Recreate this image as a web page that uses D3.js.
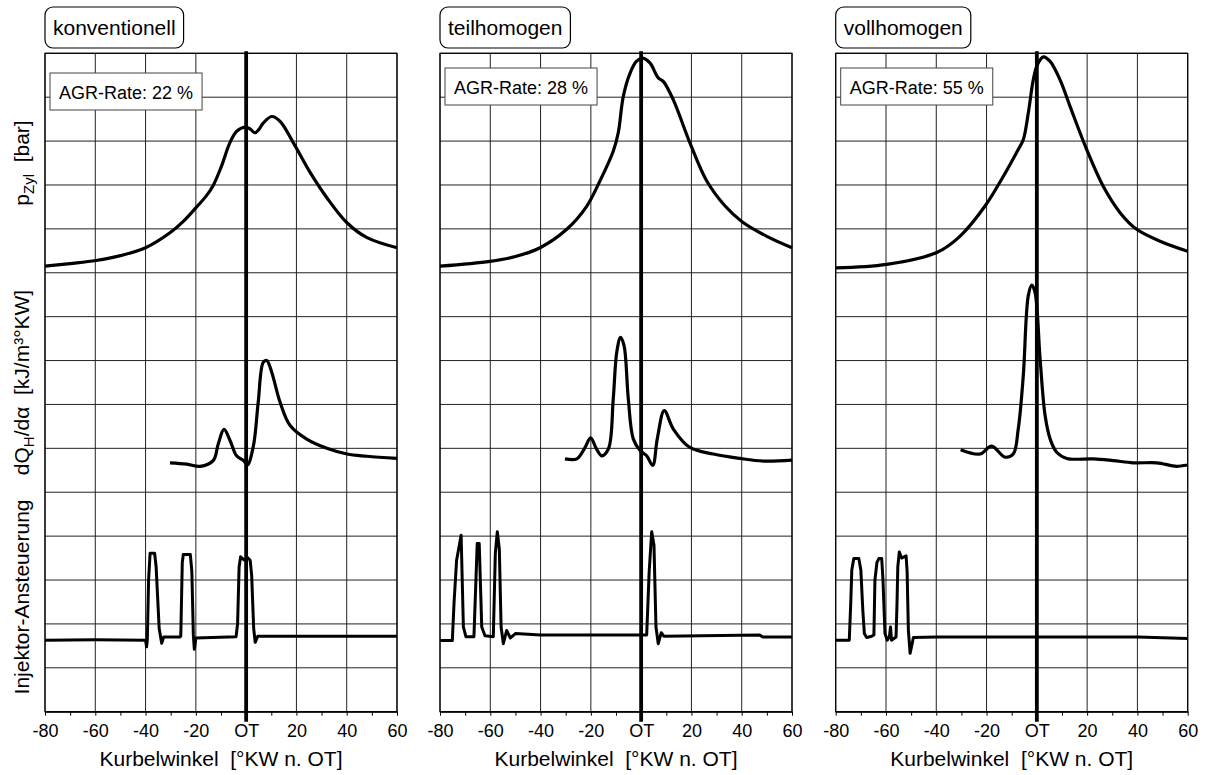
<!DOCTYPE html>
<html>
<head>
<meta charset="utf-8">
<script src="https://cdn.jsdelivr.net/npm/d3@7/dist/d3.min.js"></script>
<style>
  body { margin: 0; background: #fff; }
  text { font-family: Arial, "Liberation Sans", sans-serif; fill: #000; }
</style>
</head>
<body>
<div id="chartContainer"></div>
<script>
// crank angle ticks
const allTicks = [-80, -70, -60, -50, -40, -30, -20, -10, 0, 10, 20, 30, 40, 50, 60];
const majorTicks = [-80, -60, -40, -20, 0, 20, 40, 60];
const tickLabels = ['-80', '-60', '-40', '-20', 'OT', '20', '40', '60'];

const panelTitles = ['konventionell', 'teilhomogen', 'vollhomogen'];
const agrRates = [22, 28, 55];

// values in grid divisions of each sub-plot, [°KW, value]
const pressureKonv = [[-80,0.15],[-70,0.21],[-59.7,0.28],[-50,0.39],[-40,0.57],[-30.3,0.91],[-25,1.17],[-20,1.48],[-16,1.74],[-13.1,1.99],[-9.8,2.43],[-6.5,2.96],[-3.8,3.22],[-0.5,3.32],[1.5,3.28],[3.5,3.19],[5,3.26],[6.8,3.41],[10.2,3.56],[13.5,3.45],[18.8,2.96],[25.5,2.28],[32.1,1.71],[40.1,1.14],[48.1,0.80],[60,0.57]];
const pressureTeil = [[-80,0.15],[-60.1,0.26],[-50,0.37],[-40.2,0.57],[-29.6,0.99],[-21.6,1.52],[-16.4,2.09],[-11.1,2.77],[-9.1,3.19],[-7.1,4.02],[-4.4,4.55],[-1.8,4.82],[0.6,4.89],[3.5,4.78],[6.8,4.44],[8.8,4.36],[12.8,3.94],[19.4,2.96],[26.1,2.09],[33.4,1.52],[40,1.17],[50,0.83],[60,0.57]];
const pressureVoll = [[-80,0.11],[-59.7,0.19],[-39.8,0.46],[-30.6,0.83],[-20.6,1.52],[-13.3,2.20],[-7.4,2.81],[-5.4,3.03],[-3.4,3.64],[-1.4,4.40],[0.2,4.74],[2.6,4.92],[5.2,4.82],[9.2,4.40],[13.2,3.79],[19.8,2.81],[26.4,1.97],[33.1,1.37],[39.7,0.99],[49,0.72],[60,0.49]];

const hrrKonv = [[-30.3,0.67],[-23.6,0.64],[-18.3,0.59],[-13.1,0.72],[-11.1,1.10],[-8.8,1.43],[-6.4,1.18],[-3.8,0.83],[-1,0.72],[0.5,0.62],[2.9,1.06],[4.8,2.05],[6.8,2.96],[8.2,3.0],[10.2,2.73],[13.5,2.05],[17.5,1.52],[24.1,1.21],[32.1,1.0],[40.1,0.87],[48,0.82],[60,0.77]];
const hrrTeil = [[-30.3,0.76],[-25.6,0.76],[-22.5,1.0],[-20.1,1.24],[-17.8,0.99],[-15.7,0.83],[-13.0,0.99],[-11.1,2.12],[-9.7,3.19],[-8.2,3.53],[-6.8,3.34],[-5.1,2.12],[-3.1,1.21],[-0.4,0.95],[2.2,0.83],[4.6,0.61],[6.4,1.21],[9.2,1.86],[12.8,1.44],[19.4,1.02],[28.7,0.87],[39.3,0.77],[48.6,0.71],[60,0.73]];
const hrrVoll = [[-30.3,0.97],[-22.6,0.87],[-18.0,1.05],[-12.7,0.80],[-9.4,0.87],[-7.4,1.44],[-5.4,2.65],[-3.4,4.48],[-2.0,4.72],[-0.7,4.55],[1.3,3.03],[3.3,1.74],[5.3,1.21],[7.9,0.91],[11.9,0.77],[22.5,0.76],[30.4,0.72],[38.4,0.67],[47.7,0.67],[55.6,0.59],[60,0.62]];

const injKonv = [[-80,1.63],[-60,1.64],[-40,1.63],[-39.6,1.48],[-39.3,1.65],[-38.8,3.0],[-38.2,3.61],[-36.4,3.61],[-35.8,3.3],[-34.6,1.9],[-33.6,1.56],[-32.8,1.70],[-26.4,1.70],[-26.0,1.72],[-25.4,3.4],[-25.0,3.58],[-22.2,3.58],[-21.6,3.2],[-21.0,1.75],[-20.6,1.42],[-20.0,1.68],[-4.0,1.71],[-3.4,2.0],[-2.8,3.3],[-2.2,3.53],[-0.6,3.45],[0.4,3.52],[1.6,3.45],[2.2,3.1],[3.0,1.9],[3.6,1.58],[4.6,1.72],[60,1.72]];
const injTeil = [[-80,1.62],[-75.1,1.62],[-74.4,2.5],[-73.4,3.45],[-71.6,4.02],[-70.7,1.93],[-69.7,1.71],[-66.5,1.71],[-65.2,3.83],[-64.4,3.83],[-63.4,1.93],[-62.1,1.73],[-58.8,1.71],[-58.0,3.6],[-57.2,4.1],[-56.4,3.7],[-55.7,1.93],[-54.8,1.55],[-53.5,1.85],[-52,1.68],[-50,1.78],[-40,1.75],[0,1.75],[2.2,1.75],[3.2,3.2],[4.2,4.1],[5.1,3.8],[5.9,1.93],[6.8,1.55],[8,1.8],[9,1.72],[47,1.75],[48.5,1.70],[60,1.70]];
const injVoll = [[-80,1.63],[-74.6,1.63],[-74.0,2.5],[-73.6,3.23],[-72.8,3.49],[-70.8,3.49],[-70.0,3.23],[-69.2,2.3],[-68.6,1.78],[-67.7,1.69],[-65.7,1.72],[-64.8,1.75],[-64.4,3.0],[-63.6,3.4],[-62.8,3.49],[-61.7,3.49],[-61.2,3.0],[-60.4,1.78],[-59.5,1.63],[-58.6,1.72],[-58.2,1.93],[-57.8,1.63],[-56.0,1.7],[-55.6,2.5],[-55.3,3.30],[-54.7,3.64],[-53.8,3.5],[-52.0,3.55],[-51.6,3.2],[-51.1,1.86],[-50.4,1.33],[-49.1,1.69],[-40,1.70],[0,1.70],[40,1.70],[60,1.67]];

const pressureSeries = [pressureKonv, pressureTeil, pressureVoll];
const hrrSeries = [hrrKonv, hrrTeil, hrrVoll];
const injSeries = [injKonv, injTeil, injVoll];

// layout
const width = 1208, height = 775;
const plotTop = 53.3, plotBottom = 711.7, panelWidth = 352;
const panelLeft = [45, 440, 835.7];
const agrTop = [73, 68, 68];
const font = 'Arial, "Liberation Sans", sans-serif';

const svg = d3.select('#chartContainer')
    .append('svg')
    .attr('width', width)
    .attr('height', height);

const gridY = d3.scaleLinear().domain([0, 15]).range([plotBottom, plotTop]);
const pScale = d3.scaleLinear().domain([0, 5]).range([gridY(10), gridY(15)]);
const hrrScale = d3.scaleLinear().domain([0, 5]).range([gridY(5), gridY(10)]);
const injScale = d3.scaleLinear().domain([0, 5]).range([gridY(0), gridY(5)]);
const gridRows = d3.range(0, 16);

panelTitles.forEach((title, i) => {
    const g = svg.append('g').attr('transform', `translate(${panelLeft[i]},0)`);
    const x = d3.scaleLinear().domain([-80, 60]).range([0, panelWidth]);

    // grid
    g.append('g').selectAll('line')
        .data(majorTicks)
        .enter()
        .append('line')
        .attr('x1', d => x(d)).attr('x2', d => x(d))
        .attr('y1', plotTop).attr('y2', plotBottom)
        .attr('stroke', '#222').attr('stroke-width', 1);

    g.append('g').selectAll('line')
        .data(gridRows)
        .enter()
        .append('line')
        .attr('x1', 0).attr('x2', panelWidth)
        .attr('y1', d => gridY(d)).attr('y2', d => gridY(d))
        .attr('stroke', '#222').attr('stroke-width', 1);

    // x axis
    const axis = d3.axisBottom(x)
        .tickValues(allTicks)
        .tickSize(4)
        .tickSizeOuter(0)
        .tickPadding(9)
        .tickFormat(d => {
            const k = majorTicks.indexOf(d);
            return k >= 0 ? tickLabels[k] : '';
        });
    const ax = g.append('g')
        .attr('transform', `translate(0,${plotBottom})`)
        .call(axis)
        .attr('font-size', 18)
        .attr('font-family', font);
    ax.select('.domain').attr('stroke', '#000').attr('stroke-width', 1.2);
    ax.selectAll('.tick line').attr('stroke', '#000');
    ax.selectAll('.tick text').attr('fill', '#000');

    g.append('text')
        .attr('x', panelWidth / 2)
        .attr('y', 766)
        .attr('text-anchor', 'middle')
        .attr('font-size', 21)
        .style('white-space', 'pre')
        .text('Kurbelwinkel  [°KW n. OT]');

    // curves
    const smooth = d3.curveCatmullRom.alpha(0.5);
    const pLine = d3.line().x(d => x(d[0])).y(d => pScale(d[1])).curve(smooth);
    const hLine = d3.line().x(d => x(d[0])).y(d => hrrScale(d[1])).curve(smooth);
    const iLine = d3.line().x(d => x(d[0])).y(d => injScale(d[1]));

    g.append('path').datum(pressureSeries[i])
        .attr('fill', 'none').attr('stroke', '#000').attr('stroke-width', 3.2)
        .attr('stroke-linejoin', 'round').attr('d', pLine);
    g.append('path').datum(hrrSeries[i])
        .attr('fill', 'none').attr('stroke', '#000').attr('stroke-width', 3.2)
        .attr('stroke-linejoin', 'round').attr('d', hLine);
    g.append('path').datum(injSeries[i])
        .attr('fill', 'none').attr('stroke', '#000').attr('stroke-width', 3)
        .attr('stroke-linejoin', 'round').attr('d', iLine);

    // OT line
    g.append('line')
        .attr('x1', x(0)).attr('x2', x(0))
        .attr('y1', plotTop - 2).attr('y2', plotBottom + 10)
        .attr('stroke', '#000').attr('stroke-width', 3.8);

    // frame
    g.append('rect')
        .attr('x', 0).attr('y', plotTop)
        .attr('width', panelWidth).attr('height', plotBottom - plotTop)
        .attr('fill', 'none').attr('stroke', '#000').attr('stroke-width', 1.2);

    // AGR box
    const agrBox = g.append('rect')
        .attr('x', 5).attr('y', agrTop[i])
        .attr('height', 37)
        .attr('fill', '#fff').attr('stroke', '#444').attr('stroke-width', 1);
    const agrText = g.append('text')
        .attr('x', 14)
        .attr('y', agrTop[i] + 26)
        .attr('font-size', 18)
        .text(`AGR-Rate: ${agrRates[i]} %`);
    agrBox.attr('width', agrText.node().getComputedTextLength() + 18);

    // title box
    const tBox = g.append('rect')
        .attr('x', 0).attr('y', 7)
        .attr('height', 41)
        .attr('rx', 8).attr('ry', 8)
        .attr('fill', '#fff').attr('stroke', '#000').attr('stroke-width', 1.2);
    const tText = g.append('text')
        .attr('x', 8)
        .attr('y', 35)
        .attr('font-size', 21)
        .text(title);
    tBox.attr('width', tText.node().getComputedTextLength() + 16);
});

// y labels
const yl = svg.append('g').attr('font-size', 21);

const pLab = yl.append('text')
    .attr('transform', `translate(29,${gridY(12.5)}) rotate(-90)`)
    .attr('text-anchor', 'middle')
    .style('white-space', 'pre');
pLab.append('tspan').text('p');
pLab.append('tspan').attr('dy', 5).attr('font-size', 15).text('Zyl');
pLab.append('tspan').attr('dy', -5).text('  [bar]');

const hLab = yl.append('text')
    .attr('transform', `translate(29,${gridY(7.5)}) rotate(-90)`)
    .attr('text-anchor', 'middle')
    .style('white-space', 'pre');
hLab.append('tspan').text('dQ');
hLab.append('tspan').attr('dy', 5).attr('font-size', 15).text('H');
hLab.append('tspan').attr('dy', -5).text('/dα  [kJ/m³°KW]');

yl.append('text')
    .attr('transform', `translate(29,${gridY(2.5) - 5}) rotate(-90)`)
    .attr('text-anchor', 'middle')
    .text('Injektor-Ansteuerung');
</script>
</body>
</html>
